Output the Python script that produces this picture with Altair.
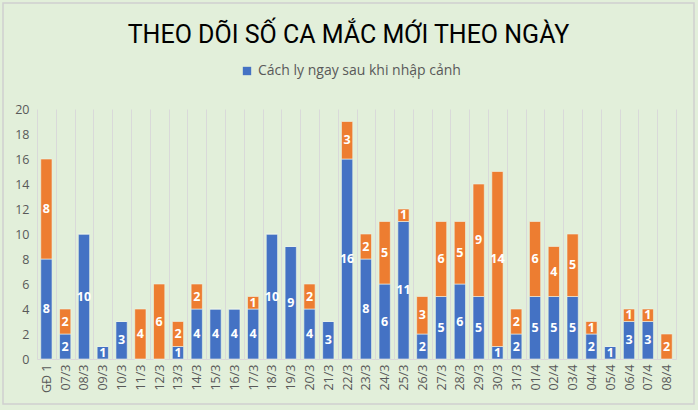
import altair as alt
import pandas as pd

categories = ["GĐ 1", "07/3", "08/3", "09/3", "10/3", "11/3", "12/3", "13/3", "14/3",
              "15/3", "16/3", "17/3", "18/3", "19/3", "20/3", "21/3", "22/3", "23/3",
              "24/3", "25/3", "26/3", "27/3", "28/3", "29/3", "30/3", "31/3", "01/4",
              "02/4", "03/4", "04/4", "05/4", "06/4", "07/4", "08/4"]
blue_values = [8, 2, 10, 1, 3, 0, 0, 1, 4, 4, 4, 4, 10, 9, 4, 3, 16, 8, 6, 11, 2, 5, 6,
               5, 1, 2, 5, 5, 5, 2, 1, 3, 3, 0]
orange_values = [8, 2, 0, 0, 0, 4, 6, 2, 2, 0, 0, 1, 0, 0, 2, 0, 3, 2, 5, 1, 3, 6, 5,
                 9, 14, 2, 6, 4, 5, 1, 0, 1, 1, 2]
series_names = ["Cách ly ngay sau khi nhập cảnh", "Lây nhiễm trong nước"]
series_colors = ["#4472C4", "#ED7D31"]
y_ticks = [0, 2, 4, 6, 8, 10, 12, 14, 16, 18, 20]

rows = []
for i, c in enumerate(categories):
    rows.append({"date": c, "series": series_names[0], "value": blue_values[i], "order": 0})
    rows.append({"date": c, "series": series_names[1], "value": orange_values[i], "order": 1})
df = pd.DataFrame(rows)

W, H = 639, 250
FONT = "Open Sans"

base = alt.Chart(df).transform_stack(
    stack="value", groupby=["date"], as_=["y0", "y1"], sort=[alt.SortField("order")]
).transform_calculate(mid="(datum.y0 + datum.y1) / 2")

x_axis = alt.Axis(title=None, labelAngle=-90, labelFontSize=12.5, labelColor="#595959",
                  labelFont=FONT, ticks=False, domainColor="#D9D9D9", grid=True,
                  gridColor="#D9D9D9", tickBand="extent", labelPadding=5,
                  labelBaseline="middle", labelAlign="right", labelOverlap=False)
y_axis = alt.Axis(title=None, values=y_ticks, grid=False, domain=False, ticks=False,
                  labelFontSize=12.5, labelColor="#595959", labelFont=FONT,
                  labelPadding=8, labelOverlap=False)
x_scale = alt.Scale(paddingInner=0, paddingOuter=0)
y_scale = alt.Scale(domain=[0, 20], nice=False)

bars = base.mark_bar(width=alt.RelativeBandSize(0.6), stroke="#EEF5E9", strokeWidth=0.6).encode(
    x=alt.X("date:N", sort=categories, scale=x_scale, axis=x_axis),
    y=alt.Y("y0:Q", scale=y_scale, axis=y_axis),
    y2="y1:Q",
    color=alt.Color("series:N", scale=alt.Scale(domain=series_names, range=series_colors),
                    legend=alt.Legend(title=None, values=[series_names[0]], orient="none",
                                      legendX=203, legendY=-45, symbolType="square",
                                      symbolSize=70, symbolStrokeWidth=0, labelFontSize=14,
                                      labelColor="#595959", labelFont=FONT, labelLimit=400)),
    order=alt.Order("order:Q"),
)

labels = base.transform_filter("datum.value > 0").mark_text(
    color="white", fontSize=12.5, fontWeight="bold", font=FONT, baseline="middle"
).encode(
    x=alt.X("date:N", sort=categories, scale=x_scale, axis=x_axis),
    y=alt.Y("mid:Q", scale=y_scale, axis=y_axis),
    text=alt.Text("value:Q"),
)

frame = alt.Chart(alt.Data(values=[{}])).mark_rect(
    fillOpacity=0, stroke="#D0D0D0", strokeWidth=1.5
).encode(x=alt.value(-34), x2=alt.value(657), y=alt.value(-106), y2=alt.value(295))

chart = alt.layer(frame, bars, labels).properties(
    width=W, height=H,
    title=alt.TitleParams("THEO DÕI SỐ CA MẮC MỚI THEO NGÀY", fontSize=25, font="Roboto",
                          fontWeight="normal", color="black", anchor="middle", offset=-46,
                          frame="group", dx=-8),
    autosize=alt.AutoSizeParams(type="none"),
    padding={"left": 37, "top": 109, "right": 22, "bottom": 51},
).configure(background="#E2EFDA").configure_view(stroke=None)

chart.save("out.html", embed_options={"renderer": "svg", "actions": False})
